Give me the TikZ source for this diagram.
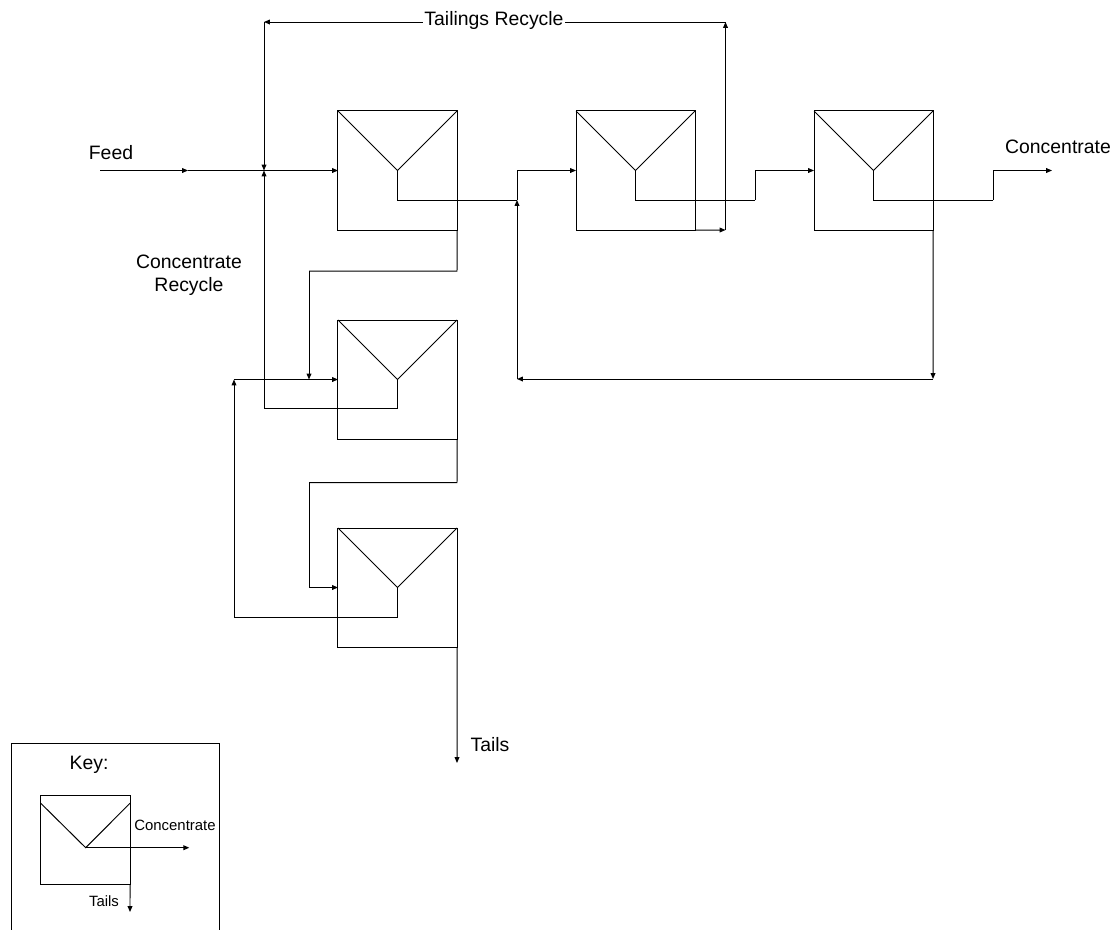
\documentclass[tikz,border=0pt]{standalone}
\usepackage{fontspec}
\setmainfont{Liberation Sans}
\usetikzlibrary{calc,arrows.meta}

\tikzset{
  cell/.style={draw, minimum size=2.975cm, inner sep=0pt, outer sep=0pt,
    path picture={\draw (path picture bounding box.north west) -- (path picture bounding box.center) -- (path picture bounding box.north east);}},
  flow/.style={-{Triangle[length=4.2pt,width=3.4pt]}},
  lbl/.style={font=\fontsize{13.8}{16.5}\selectfont, inner sep=0pt},
  klbl/.style={font=\fontsize{10.6}{12.5}\selectfont, inner sep=0pt},
}

\begin{document}
\begin{tikzpicture}[x=0.025cm, y=-0.025cm, line width=0.7pt]
			%%%%% START %%%%%
			\useasboundingbox (0,0) rectangle (1116,929);
			\clip (0,0) rectangle (1116,929);
			
			% flotation cells
			\node[cell] (c1) at (397.5,170.5) {};
			\node[cell] (c2) at (635.5,170.5) {};
			\node[cell] (c3) at (873.5,170.5) {};
			\node[cell] (c4) at (397.5,379.5) {};
			\node[cell] (c5) at (397.5,587.5) {};
			
			% feed
			\coordinate (feedin) at (100,170.5);
			\coordinate (feedmid) at (188,170.5);
			\coordinate (jf) at (264,170.5);
			\draw[flow] (feedin) -- (feedmid);
			\draw[flow] (feedmid) -- (c1.west);
			\node[lbl] (feedlbl) at (111,153) {Feed};
			
			% concentrate line
			\coordinate (j1) at (517,200);
			\coordinate (j2) at (755,200);
			\coordinate (j3) at (993,200);
			\coordinate (conout) at (1052,170.5);
			\draw (c1.center) |- (j1);
			\draw[flow] (j1) |- (c2.west);
			\draw (c2.center) |- (j2);
			\draw[flow] (j2) |- (c3.west);
			\draw (c3.center) |- (j3);
			\draw[flow] (j3) |- (conout);
			\node[lbl] (conlbl) at (1058,147) {Concentrate};
			
			% tails of c3 back to c2
			\coordinate (r3) at (933,379);
			\coordinate (r3b) at (517,379);
			\draw[flow] (c3.south east) -- (r3);
			\draw[flow] (r3) -- (r3b);
			\draw[flow] (r3b) -- (j1);
			
			% tailings recycle
			\node[lbl] (tlbl) at (494,20) {Tailings Recycle};
			\coordinate (t2) at (725.5,230);
			\coordinate (t2top) at (725.5,22);
			\coordinate (t1top) at (264,22);
			\draw[flow] (c2.south east) -- (t2);
			\draw[flow] (t2) -- (t2top);
			\draw (t2top) -- ([xshift=1pt]tlbl.east |- t2top);
			\draw[flow] ([xshift=-1pt]tlbl.west |- t1top) -- (t1top);
			\draw[flow] (t1top) -- (jf);
			
			% scavenger cells
			\coordinate (t1) at (457,271);
			\coordinate (t1l) at (309,271);
			\coordinate (j4) at (309,379.5);
			\draw (c1.south east) -- (t1) -- (t1l);
			\draw[flow] (t1l) -- (j4);
			\coordinate (r5) at (234,379.5);
			\draw[flow] (r5) -- (c4.west);
			
			\coordinate (r4) at (264,408);
			\draw (c4.center) |- (r4);
			\draw[flow] (r4) -- (jf);
			\node[lbl, align=center] (crlbl) at (189,275) {Concentrate\\Recycle};
			
			\coordinate (t4) at (457,482.5);
			\coordinate (t4l) at (309,482.5);
			\draw (c4.south east) -- (t4) -- (t4l);
			\draw[flow] (t4l) |- (c5.west);
			
			\coordinate (r5b) at (234,617);
			\draw (c5.center) |- (r5b);
			\draw[flow] (r5b) -- (r5);
			
			\coordinate (tailout) at (457,763);
			\draw[flow] (c5.south east) -- (tailout);
			\node[lbl] (taillbl) at (490,745) {Tails};
			
			% key
			\draw (11.7,743.3) rectangle (219.3,945);
			\node[lbl] (keylbl) at (89,765) {Key:};
			\node[draw, minimum width=2.2325cm, minimum height=2.215cm, inner sep=0pt, outer sep=0pt] (kc) at (85.35,840) {};
			\coordinate (kapex) at (85.7,847.7);
			\draw ($(kc.north west)+(0,7.5)$) -- (kapex) -- ($(kc.north east)+(0,7.5)$);
			\coordinate (kcon) at (189.3,847.7);
			\coordinate (ktail) at (130,912);
			\draw[flow] (kapex) -- (kcon);
			\draw[flow] (kc.south east) -- (ktail);
			\node[klbl] (kconlbl) at (175,825.3) {Concentrate};
			\node[klbl] (ktaillbl) at (104,901) {Tails};
			
			%%%%% END %%%%%
		\end{tikzpicture}
\end{document}
